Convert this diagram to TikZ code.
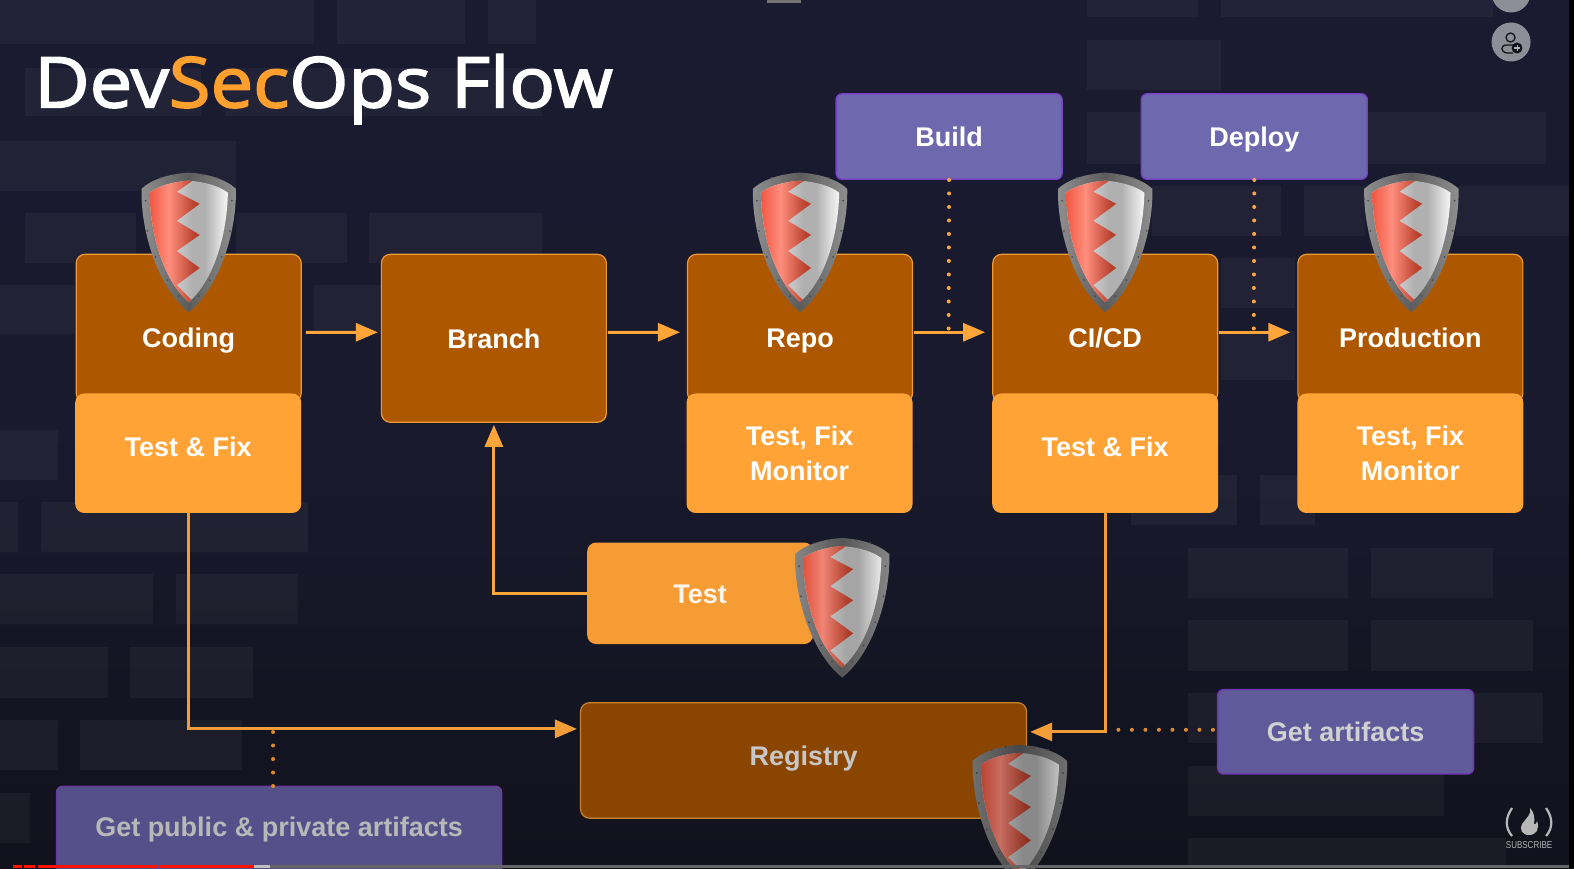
\documentclass[tikz,border=0pt]{standalone}
\usepackage{fontspec}
\setmainfont{Liberation Sans}
\newfontfamily\titlefont[FakeBold=2.2]{Open Sans}
\usetikzlibrary{arrows.meta}
\definecolor{bgtop}{HTML}{1A1B30}
\definecolor{bgbot}{HTML}{11121C}
\definecolor{brownbox}{HTML}{AD5800}
\definecolor{brownedge}{HTML}{EB9A34}
\definecolor{orangebox}{HTML}{FFA336}
\definecolor{flow}{HTML}{FFA53A}
\definecolor{titleorange}{HTML}{FF9F2E}
\definecolor{rl}{HTML}{F0553F}
\definecolor{rm}{HTML}{FF8E7E}
\definecolor{rd}{HTML}{B8402C}
\definecolor{sa}{HTML}{E2E2E2}
\definecolor{sb}{HTML}{B0B0B0}
\definecolor{sc}{HTML}{FFFFFF}
\definecolor{rimdark}{HTML}{5C5C5C}
\definecolor{rimlight}{HTML}{9A9A9A}
\definecolor{purpA}{HTML}{6E68AE}
\definecolor{purpAe}{HTML}{7A3FC8}
\definecolor{purpB}{HTML}{5F5A9A}
\definecolor{purpBe}{HTML}{6F35B0}
\definecolor{purpC}{HTML}{55508A}
\definecolor{purpCe}{HTML}{6B3A9E}
\definecolor{chrome}{HTML}{8E8E98}
\pgfdeclarehorizontalshading{redside}{100bp}{color(0bp)=(rl);color(25bp)=(rl);color(45bp)=(rm);color(70bp)=(rd);color(100bp)=(rd)}
\pgfdeclarehorizontalshading{silverside}{100bp}{color(0bp)=(sa);color(35bp)=(sa);color(52bp)=(sb);color(60bp)=(sb);color(76bp)=(sc);color(92bp)=(sc);color(100bp)=(sa)}
\pgfdeclarehorizontalshading{rimshade}{100bp}{color(0bp)=(rimdark);color(20bp)=(rimlight);color(50bp)=(rimdark);color(80bp)=(rimlight);color(100bp)=(rimdark)}
\tikzset{
  x=1.0038pt,y=-1.0038pt,
  lbl/.style={font=\fontsize{27}{35}\selectfont\bfseries,text=white,align=center},
  oneline/.style={text height=19.5pt+#1,text depth=0pt},
  oneline/.default=0pt,
  lowered/.style={text height=19.5pt,text depth=#1},
  brownnode/.style={lbl,draw=brownedge,line width=1.2pt,fill=brownbox,rounded corners=9pt,minimum width=225pt,inner sep=0pt},
  orangenode/.style={lbl,fill=orangebox,rounded corners=9pt,minimum width=226pt,minimum height=119.5pt,inner sep=0pt},
  purplenode/.style={lbl,rounded corners=6pt,inner sep=0pt,line width=1.4pt},
  flowline/.style={draw=flow,line width=3pt,-{Stealth[length=22pt,width=18pt,inset=0pt]}},
  dotline/.style={draw=flow,line width=4pt,line cap=round,dash pattern=on 0pt off 13.5pt},
  brick/.style={fill=white,fill opacity=.04,draw=none},
  pics/shieldicon/.default=0,
  pics/shieldicon/.style={code={
    \shade[shading=rimshade] (0,0) .. controls (18,1) and (36,6) .. (47,16) .. controls (48,60) and (30,115) .. (0,139) .. controls (-30,115) and (-48,60) .. (-47,16) .. controls (-36,6) and (-18,1) .. (0,0) -- cycle;
    \begin{scope}
      \clip (0,8) .. controls (15,9) and (30,13) .. (39,20) .. controls (38,65) and (24,108) .. (0,129) .. controls (-24,108) and (-38,65) .. (-39,20) .. controls (-30,13) and (-15,9) .. (0,8) -- cycle;
      \shade[shading=silverside] (-40,6) rectangle (40,131);
      \shade[shading=redside] (-40,6) -- (4,6) -- (4,8) -- (-12,19) -- (11,31) -- (-12,48) -- (11,62) -- (-12,78) -- (11,95) -- (-12,112) -- (3,127) -- (3,131) -- (-40,131) -- cycle;
    \end{scope}
    \foreach \rx/\ry in {-28/5,-14/2,14/2,28/5,-43/28,-41/58,-33/84,-21/107,-10/123,43/28,41/58,33/84,21/107,10/123}{
      \fill[black!70] (\rx,\ry) circle (1pt);
    }
    \fill[black,opacity=#1] (0,0) .. controls (18,1) and (36,6) .. (47,16) .. controls (48,60) and (30,115) .. (0,139) .. controls (-30,115) and (-48,60) .. (-47,16) .. controls (-36,6) and (-18,1) .. (0,0) -- cycle;
  }},
}
\begin{document}
\begin{tikzpicture}
\useasboundingbox (0,0) rectangle (1568,864.7);
\shade[top color=bgtop,bottom color=bgbot,middle color=bgtop!85!bgbot] (0,0) rectangle (1568,864.7);
% background bricks
\foreach \a/\b/\c/\d in {0/0/313/44,336/0/463/44,486/0/534/44,1083/0/1193/17,1216/0/1487/17,1083/40/1216/90,25/68/200/116,224/68/540/116,0/140/235/190,1083/112/1140/163,1362/112/1540/163,25/212/135/262,235/212/346/262,368/212/540/262,1148/185/1276/235,1299/185/1360/235,1450/185/1568/235,0/284/75/333,313/284/380/333,1216/257/1290/307,1216/330/1290/379,0/428/58/478,0/500/18/550,41/500/307/550,1127/473/1232/523,1255/473/1310/523,1183/546/1343/596,1366/546/1487/596,0/572/152/622,175/572/297/622,1183/618/1343/668,1366/618/1527/668,0/645/108/695,130/645/252/695,1183/690/1213/740,1468/690/1537/740,80/717/241/767,0/717/58/767,1183/763/1438/813,1183/835/1500/864.7,0/790/30/840}{
  \fill[brick] (\a,\b) rectangle (\c,\d);
}
% title
\node[anchor=base west,inner sep=0pt,font=\titlefont\fontsize{70}{70}\selectfont,text=white,xscale=1.085] (title) at (34,107) {Dev\textcolor{titleorange}{Sec}Ops Flow};
% upper task boxes
\node[purplenode,oneline,draw=purpAe,fill=purpA,minimum width=226pt,minimum height=85.5pt] (build) at (945.5,136) {Build};
\node[purplenode,oneline,draw=purpAe,fill=purpA,minimum width=226pt,minimum height=85.5pt] (deploy) at (1249.5,136) {Deploy};
% dotted links behind
\coordinate (buildend) at (945,331);
\coordinate (deployend) at (1249,331);
\draw[dotline] (build.south) -- (buildend);
\draw[dotline] (deploy.south) -- (deployend);
% main row
\node[brownnode,oneline=18pt,minimum height=148pt] (coding) at (188,327) {Coding};
\node[brownnode,oneline,minimum height=168pt] (branch) at (492,337) {Branch};
\node[brownnode,oneline=18pt,minimum height=148pt] (repo) at (797,327) {Repo};
\node[brownnode,oneline=18pt,minimum height=148pt] (cicd) at (1101,327) {CI/CD};
\node[brownnode,oneline=18pt,minimum height=148pt] (prod) at (1405,327) {Production};
\node[orangenode,lowered=13pt] (codingtest) at (187.5,451.5) {Test \& Fix};
\node[orangenode] (repotest) at (796.5,451.5) {Test, Fix\\Monitor};
\node[orangenode,lowered=13pt] (cicdtest) at (1101,451.5) {Test \& Fix};
\node[orangenode] (prodtest) at (1405,451.5) {Test, Fix\\Monitor};
% test, registry
\node[orangenode,oneline,fill=orangebox!96!black,minimum height=101.5pt,text=white!92!orange] (testbox) at (697.5,591) {Test};
\node[brownnode,lowered=9pt,draw=brownedge!85!black,fill=brownbox!80!black,text=white!78!black,minimum width=446pt,minimum height=115.5pt] (registry) at (800.5,757.5) {Registry};
% lower task boxes
\node[purplenode,oneline,draw=purpBe,fill=purpB,text=white!82!black,minimum width=256pt,minimum height=84.5pt] (getart) at (1340.5,729) {Get artifacts};
\node[purplenode,lowered=28pt,draw=purpCe,fill=purpC,text=white!72!black,minimum width=445pt,minimum height=110pt] (getpub) at (278,838) {Get public \& private artifacts};
% flows
\draw[flowline,shorten <=4pt,shorten >=3pt] ([yshift=-4pt]coding.east) -- ([yshift=6pt]branch.west);
\draw[flowline,shorten <=1pt,shorten >=7pt] ([yshift=6pt]branch.east) -- ([yshift=-4pt]repo.west);
\draw[flowline,shorten <=1pt,shorten >=7pt] ([yshift=-4pt]repo.east) -- ([yshift=-4pt]cicd.west);
\draw[flowline,shorten <=1pt,shorten >=7pt] ([yshift=-4pt]cicd.east) -- ([yshift=-4pt]prod.west);
\draw[flowline,shorten >=2pt] (testbox.west) -| (branch.south);
\draw[flowline,flow!95!black,shorten >=3pt] (codingtest.south) |- ([yshift=31.5pt]registry.west);
\draw[flowline,flow!95!black,shorten >=3pt] (cicdtest.south) |- ([yshift=28.5pt]registry.east);
\coordinate (getartend) at (1105,727);
\coordinate (getpubend) at (272,726);
\draw[dotline,flow!85!black,shorten <=4pt] ([yshift=2pt]getart.west) -- (getartend);
\draw[dotline,flow!85!black] (272,783) -- (getpubend);
% shields
\pic at (188,172) {shieldicon};
\pic at (797,172) {shieldicon};
\pic at (1101,172) {shieldicon};
\pic at (1406,172) {shieldicon};
\pic at (839,536) {shieldicon=0.06};
\pic at (1016,742) {shieldicon=0.22};
% player chrome, in the pixels of the full frame
\begin{scope}[x=1pt,y=-1pt]
\fill[black!55] (767,0) rectangle (801,3);
\fill[black] (1569,0) rectangle (1574,868);
\fill[chrome] (1511,-7) circle (19.5);
\fill[chrome] (1511,42) circle (19.5);
\draw[bgbot,line width=1.3pt] (1510.5,37.5) circle (4.5);
\draw[bgbot,line width=1.3pt] (1513,45) -- (1507,45) .. controls (1500,45) and (1500,52) .. (1507,53) -- (1513,53);
\fill[bgbot] (1517,48) circle (5.5);
\draw[white!70!black,line width=1.1pt] (1514,48) -- (1520,48) (1517,45) -- (1517,51);
% subscribe mark
\draw[white!72!black,line width=2.2pt] (1512,808) .. controls (1505,818) and (1505,828) .. (1512,836);
\draw[white!72!black,line width=2.2pt] (1546,808) .. controls (1553,818) and (1553,828) .. (1546,836);
\fill[white!72!black] (1530,808) .. controls (1532,814) and (1526,818) .. (1522,824) .. controls (1519,829) and (1522,835) .. (1529,835) .. controls (1536,835) and (1540,829) .. (1537,821) .. controls (1536,824) and (1535,825) .. (1534,824) .. controls (1535,818) and (1534,812) .. (1530,808) -- cycle;
\node[inner sep=0pt,text=white!72!black,font=\fontsize{10}{10}\selectfont,xscale=.8] (subscribe) at (1529,845) {SUBSCRIBE};
% progress bar
\fill[black!60] (270,865) rectangle (1569,868);
\fill[black!25] (254,865) rectangle (270,868);
\foreach \a/\b in {13/22,24/35,38/157,160/254}{
  \fill[red!85!orange] (\a,865) rectangle (\b,868);
}
\end{scope}
\end{tikzpicture}
\end{document}
